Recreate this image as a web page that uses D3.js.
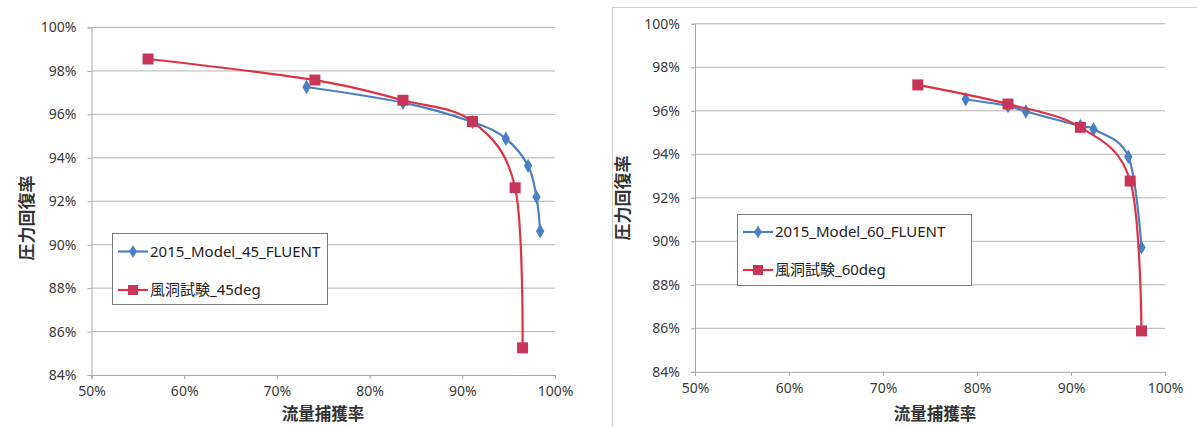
<!DOCTYPE html>
<html>
<head>
<meta charset="utf-8">
<script src="https://cdn.jsdelivr.net/npm/d3@7"></script>
<style>
  body { margin: 0; background: #fff; }
  svg text { font-family: "Noto Sans", "Noto Sans CJK JP", sans-serif; }
</style>
</head>
<body>
<div id="chart"></div>
<script>
// chart values
const xTicks = [0.5, 0.6, 0.7, 0.8, 0.9, 1.0];
const yTicks = [0.84, 0.86, 0.88, 0.90, 0.92, 0.94, 0.96, 0.98, 1.00];

const model45X = [0.732, 0.836, 0.911, 0.947, 0.971, 0.980, 0.984];
const model45Y = [0.9726, 0.9654, 0.9565, 0.9488, 0.9363, 0.9220, 0.9062];
const wind45X = [0.561, 0.741, 0.836, 0.911, 0.957, 0.965];
const wind45Y = [0.9855, 0.9758, 0.9665, 0.9567, 0.9262, 0.8525];

const model60X = [0.788, 0.833, 0.852, 0.910, 0.924, 0.961, 0.975];
const model60Y = [0.9653, 0.9622, 0.9597, 0.9530, 0.9515, 0.9389, 0.8972];
const wind60X = [0.737, 0.833, 0.910, 0.963, 0.975];
const wind60Y = [0.9719, 0.9631, 0.9524, 0.9277, 0.8588];

const seriesNames45 = ["2015_Model_45_FLUENT", "風洞試験_45deg"];
const seriesNames60 = ["2015_Model_60_FLUENT", "風洞試験_60deg"];
const xTitle = "流量捕獲率";
const yTitle = "圧力回復率";

const blue = "#4a7fc1";
const red = "#dc3346";
const redMark = "#c8355a";

const svg = d3.select("#chart").append("svg")
  .attr("width", 1197)
  .attr("height", 427);

// frame of the right chart
svg.append("rect")
  .attr("x", 612.5).attr("y", 7.5)
  .attr("width", 590).attr("height", 430)
  .attr("fill", "none").attr("stroke", "#d0d0d0");

const zip = (xs, ys) => xs.map((x, i) => ({ x, y: ys[i] }));

function drawChart(opt) {
  const x = d3.scaleLinear().domain([0.5, 1.0]).range([opt.left, opt.right]);
  const y = d3.scaleLinear().domain([0.84, 1.0]).range([opt.bottom, opt.top]);
  const g = svg.append("g");

  // gridlines
  g.selectAll("line.grid")
    .data(yTicks.slice(1))
    .enter().append("line")
    .attr("x1", opt.left).attr("x2", opt.right)
    .attr("y1", d => y(d)).attr("y2", d => y(d))
    .attr("stroke", "#b4b4b4").attr("stroke-width", 1);

  const fmt = d3.format(".0%");
  const yAxis = g.append("g")
    .attr("transform", `translate(${opt.left},0)`)
    .call(d3.axisLeft(y).tickValues(yTicks).tickFormat(fmt).tickSize(4).tickPadding(11));
  const xAxis = g.append("g")
    .attr("transform", `translate(0,${opt.bottom})`)
    .call(d3.axisBottom(x).tickValues(xTicks).tickFormat(fmt).tickSize(4).tickPadding(7));
  [yAxis, xAxis].forEach(a => {
    a.select(".domain").attr("stroke", "#a8a8a8");
    a.selectAll(".tick line").attr("stroke", "#a8a8a8");
    a.selectAll("text").attr("font-size", 14).attr("fill", "#3a3a3a")
      .style("font-family", "'Noto Sans', sans-serif");
  });

  const line = d3.line()
    .x(d => x(d.x)).y(d => y(d.y))
    .curve(d3.curveCatmullRom.alpha(0));

  const model = zip(opt.modelX, opt.modelY);
  const wind = zip(opt.windX, opt.windY);

  g.append("path").datum(model)
    .attr("d", line).attr("fill", "none")
    .attr("stroke", blue).attr("stroke-width", 2.2);
  g.selectAll("path.dia").data(model).enter().append("path")
    .attr("d", d3.symbol(d3.symbolDiamond, 60))
    .attr("transform", d => `translate(${x(d.x)},${y(d.y)})`)
    .attr("fill", blue);

  g.append("path").datum(wind)
    .attr("d", line).attr("fill", "none")
    .attr("stroke", red).attr("stroke-width", 2.2);
  g.selectAll("rect.sq").data(wind).enter().append("rect")
    .attr("x", d => x(d.x) - 5.5).attr("y", d => y(d.y) - 5.5)
    .attr("width", 11).attr("height", 11)
    .attr("fill", redMark);

  // axis titles
  g.append("text")
    .attr("x", opt.xTitleX).attr("y", 420)
    .attr("text-anchor", "middle")
    .attr("font-size", 16.5).attr("font-weight", "bold").attr("fill", "#333")
    .style("font-family", "'Noto Sans CJK JP', sans-serif")
    .text(xTitle);
  g.append("text")
    .attr("transform", `translate(${opt.yTitleX},${opt.yTitleY}) rotate(-90)`)
    .attr("text-anchor", "middle")
    .attr("font-size", 17).attr("font-weight", "bold").attr("fill", "#333")
    .style("font-family", "'Noto Sans CJK JP', sans-serif")
    .text(yTitle);

  // legend
  const lg = opt.legend;
  g.append("rect")
    .attr("x", lg.x + 0.5).attr("y", lg.y + 0.5)
    .attr("width", lg.w).attr("height", lg.h)
    .attr("fill", "#fff").attr("stroke", "#7a7a7a");
  const rows = [
    { name: opt.names[0], color: blue, mark: "dia", dy: lg.row1 },
    { name: opt.names[1], color: red, mark: "sq", dy: lg.row2 }
  ];
  rows.forEach(r => {
    const cy = lg.y + r.dy;
    g.append("line")
      .attr("x1", lg.x + 6).attr("x2", lg.x + 36)
      .attr("y1", cy).attr("y2", cy)
      .attr("stroke", r.color).attr("stroke-width", 2.2);
    if (r.mark === "dia") {
      g.append("path").attr("d", d3.symbol(d3.symbolDiamond, 50))
        .attr("transform", `translate(${lg.x + 21},${cy})`).attr("fill", blue);
    } else {
      g.append("rect").attr("x", lg.x + 16).attr("y", cy - 5)
        .attr("width", 10).attr("height", 10).attr("fill", redMark);
    }
    g.append("text")
      .attr("x", lg.x + 38).attr("y", cy).attr("dy", "0.35em")
      .attr("font-size", 15).attr("fill", "#222")
      .style("font-family", "'Noto Sans', 'Noto Sans CJK JP', sans-serif")
      .text(r.name);
  });
}

drawChart({
  left: 91.5, right: 555, top: 27.5, bottom: 375,
  modelX: model45X, modelY: model45Y, windX: wind45X, windY: wind45Y,
  names: seriesNames45,
  xTitleX: 323, yTitleX: 33, yTitleY: 218,
  legend: { x: 112, y: 233, w: 215, h: 71, row1: 18.5, row2: 57 }
});

drawChart({
  left: 695, right: 1165, top: 23.8, bottom: 371.8,
  modelX: model60X, modelY: model60Y, windX: wind60X, windY: wind60Y,
  names: seriesNames60,
  xTitleX: 935, yTitleX: 629, yTitleY: 198,
  legend: { x: 737, y: 214, w: 234, h: 71, row1: 18, row2: 56 }
});
</script>
</body>
</html>
